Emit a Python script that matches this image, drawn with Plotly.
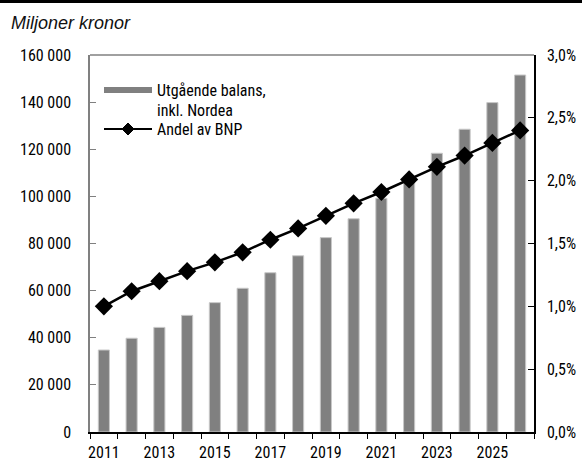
import plotly.graph_objects as go

years = list(range(2011, 2027))
balans = [34800, 39800, 44400, 49500, 54900, 61000, 67600, 74800,
          82500, 90500, 99200, 108000, 118300, 128500, 139800, 151500]
andel_bnp = [0.0100, 0.0112, 0.0120, 0.0128, 0.0135, 0.0143, 0.0153, 0.0162,
             0.0172, 0.0182, 0.0191, 0.0201, 0.0211, 0.0220, 0.0230, 0.0240]
x_label_years = [2011, 2013, 2015, 2017, 2019, 2021, 2023, 2025]
bar_name = "Utgående balans,"
bar_name2 = "inkl. Nordea"
line_name = "Andel av BNP"
unit_title = "Miljoner kronor"

FONT = "Roboto Condensed, DejaVu Sans Condensed, sans-serif"
boundaries = [y - 0.5 for y in years] + [years[-1] + 0.5]
xr = [years[0] - 0.5, years[-1] + 0.5]

fig = go.Figure()
fig.add_trace(go.Bar(
    x=years, y=balans, width=0.4, name=bar_name,
    marker=dict(color="#808080", line=dict(color="#c8c8c8", width=1)),
    yaxis="y", xaxis="x", showlegend=False,
))
fig.add_trace(go.Scatter(
    x=years, y=andel_bnp, name=line_name, mode="lines+markers",
    line=dict(color="black", width=2.5),
    marker=dict(symbol="diamond", size=14, color="black"),
    yaxis="y2", xaxis="x", showlegend=False,
))

W, H = 582, 461
L, R, T, B = 90, 48, 55, 29
pw, ph = W - L - R, H - T - B

def px(xp):
    return (xp - L) / pw

def py(yp):
    return (H - B - yp) / ph

fig.update_layout(
    width=W, height=H,
    margin=dict(l=L, r=R, t=T, b=B, pad=0, autoexpand=False),
    paper_bgcolor="white", plot_bgcolor="white",
    separators=", ",
    font=dict(family=FONT, size=16, color="black"),
    showlegend=False,
    xaxis=dict(
        range=xr, tickmode="array", tickvals=x_label_years,
        ticktext=[str(y) for y in x_label_years],
        ticks="", showgrid=False, zeroline=False, automargin=False,
        showline=True, linecolor="black", linewidth=1.5,
        minor=dict(tickmode="array", tickvals=boundaries, ticks="outside",
                   ticklen=5, tickcolor="black", tickwidth=1, showgrid=False),
        tickfont=dict(size=16), ticklabelstandoff=5,
    ),
    xaxis2=dict(
        range=xr, overlaying="x", anchor="y", side="bottom", automargin=False,
        tickmode="array", tickvals=boundaries, ticks="inside", ticklen=5,
        tickcolor="black", showticklabels=False, showgrid=False,
        zeroline=False, showline=False,
    ),
    yaxis=dict(
        range=[0, 160000], tickmode="linear", tick0=0, dtick=20000,
        tickformat=",d", ticks="inside", ticklen=6, tickcolor="#808080",
        showline=True, linecolor="#808080", linewidth=1.5, automargin=False,
        showgrid=False, zeroline=False, ticklabelstandoff=14,
    ),
    yaxis2=dict(
        range=[0, 0.03], tickmode="linear", tick0=0, dtick=0.005,
        tickformat=".1%", overlaying="y", side="right", automargin=False,
        ticks="inside", ticklen=6, tickcolor="black",
        showline=True, linecolor="black", linewidth=1.5,
        showgrid=False, zeroline=False, ticklabelstandoff=8,
    ),
)

shapes = [
    dict(type="rect", xref="paper", yref="paper", x0=px(0), x1=px(W),
         y0=py(3), y1=py(0), fillcolor="black", line=dict(width=0), layer="above"),
    dict(type="line", xref="paper", yref="paper", x0=0, x1=1, y0=1, y1=1,
         line=dict(color="#808080", width=1.5)),
    dict(type="rect", xref="paper", yref="paper", x0=px(104), x1=px(152),
         y0=py(93), y1=py(87), fillcolor="#808080", line=dict(width=0)),
    dict(type="line", xref="paper", yref="paper", x0=px(104), x1=px(152),
         y0=py(129), y1=py(129), line=dict(color="black", width=2)),
    dict(type="path", xref="paper", yref="paper", xsizemode="pixel", ysizemode="pixel",
         xanchor=px(128), yanchor=py(129), path="M0,6 L6,0 L0,-6 L-6,0 Z",
         fillcolor="black", line=dict(color="black", width=1)),
]
fig.update_layout(shapes=shapes)

ann = [
    dict(text="<i>" + unit_title + "</i>", xref="paper", yref="paper",
         x=px(9), y=py(23), xanchor="left", yanchor="middle", showarrow=False,
         font=dict(family="Liberation Sans, Arial, sans-serif", size=18, color="#111")),
    dict(text=bar_name, xref="paper", yref="paper", x=px(155), y=py(91),
         xanchor="left", yanchor="middle", showarrow=False, font=dict(size=16)),
    dict(text=bar_name2, xref="paper", yref="paper", x=px(155), y=py(110),
         xanchor="left", yanchor="middle", showarrow=False, font=dict(size=16)),
    dict(text=line_name, xref="paper", yref="paper", x=px(155), y=py(129),
         xanchor="left", yanchor="middle", showarrow=False, font=dict(size=16)),
]
fig.update_layout(annotations=ann)

fig.write_html("out.html", config={"displayModeBar": False},
               post_script="document.body.style.margin='0';")
